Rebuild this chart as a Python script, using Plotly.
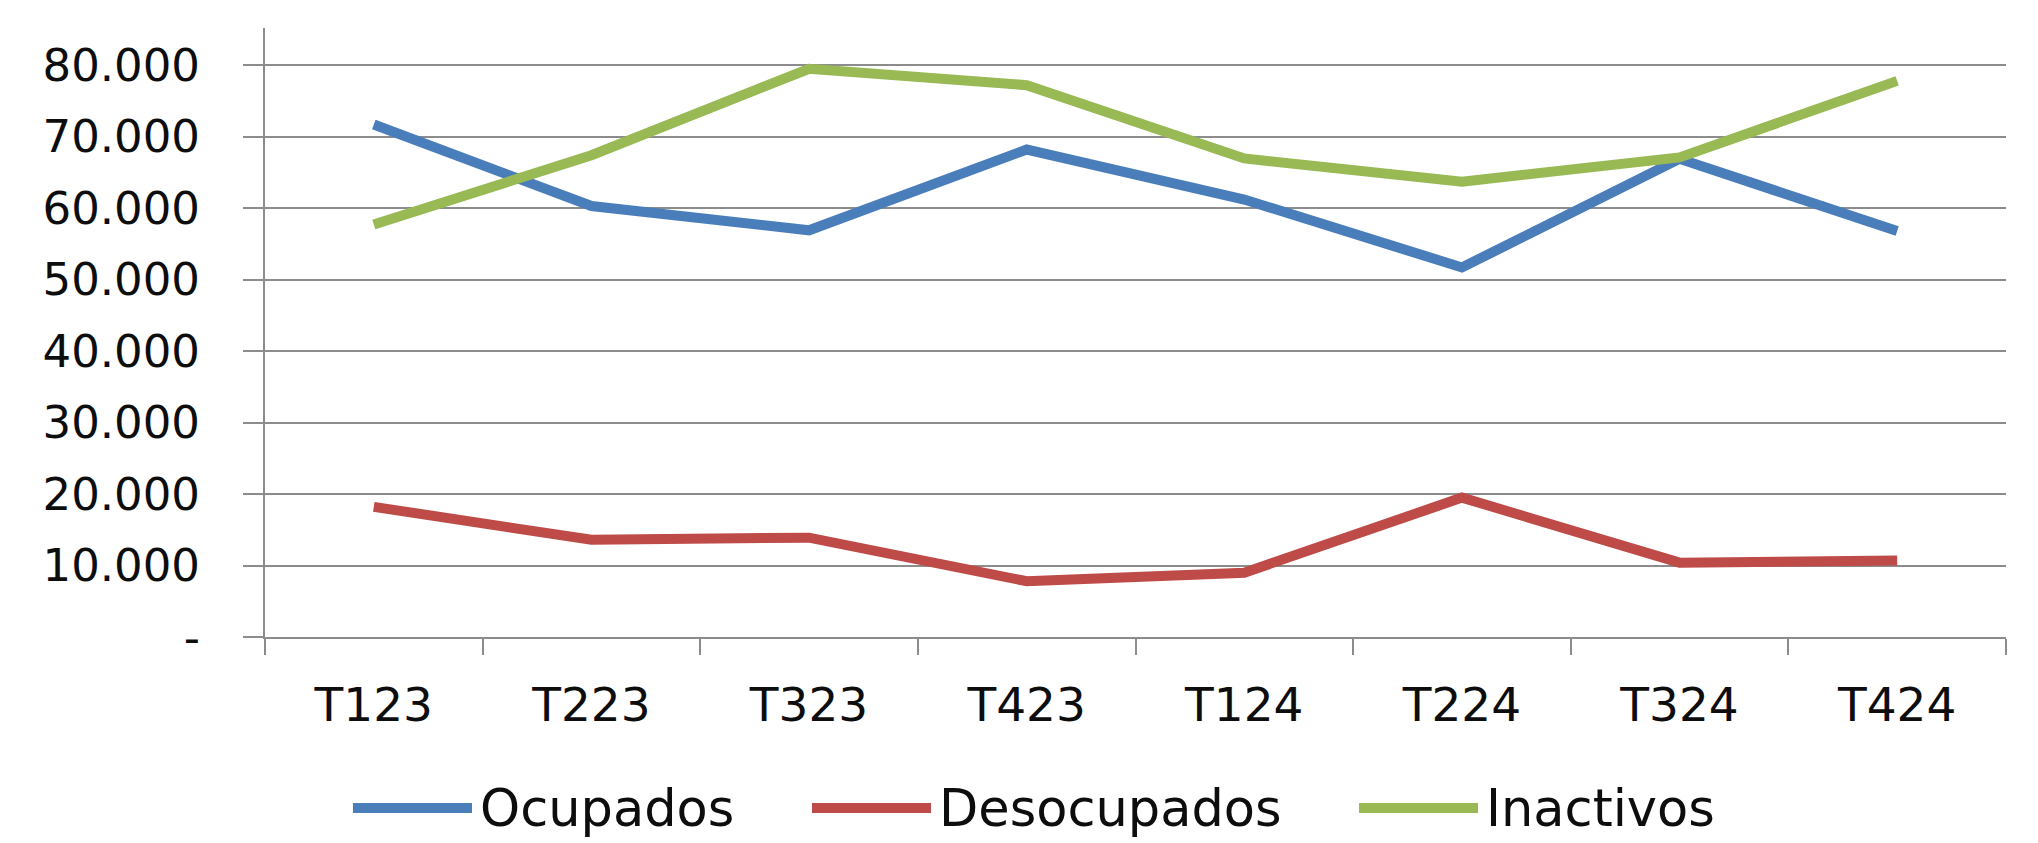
import plotly.graph_objects as go

# ---- data ----
categories = ["T123", "T223", "T323", "T423", "T124", "T224", "T324", "T424"]
ocupados = [71700, 60300, 56900, 68200, 61200, 51700, 66900, 56800]
desocupados = [18200, 13600, 13900, 7800, 9000, 19500, 10400, 10700]
inactivos = [57700, 67400, 79500, 77200, 66950, 63700, 67100, 77800]

series_names = ["Ocupados", "Desocupados", "Inactivos"]
series_values = [ocupados, desocupados, inactivos]
series_colors = ["#4A7EBB", "#BE4B48", "#98B954"]

y_tickvals = [0, 10000, 20000, 30000, 40000, 50000, 60000, 70000, 80000]
y_ticktext = ["-", "10.000", "20.000", "30.000", "40.000", "50.000", "60.000", "70.000", "80.000"]

# ---- layout constants (pixels) ----
OFF = 8                     # default page body margin
W, H = 2038 - OFF, 843 - OFF
L, R, T, B = 257, 32, 20, 206
PW = W - L - R
PH = H - T - B
FONT = "DejaVu Sans"
GRID = "#8C8C8C"
TXT = "#0d0d0d"

fig = go.Figure()
for name, vals, col in zip(series_names, series_values, series_colors):
    fig.add_trace(go.Scatter(
        x=categories, y=vals, name=name, mode="lines",
        line=dict(color=col, width=10), showlegend=False,
    ))

# custom legend (long line samples like the original)
legend_starts = [353, 812, 1359]   # page pixels
legend_line_len = 119
legend_y_px = 808
for name, col, x0 in zip(series_names, series_colors, legend_starts):
    yp = (T + PH - (legend_y_px - OFF)) / PH
    fig.add_shape(type="line", xref="paper", yref="paper",
                  x0=(x0 - OFF - L) / PW, x1=(x0 + legend_line_len - OFF - L) / PW,
                  y0=yp, y1=yp, line=dict(color=col, width=10))
    fig.add_annotation(xref="paper", yref="paper",
                       x=(x0 + legend_line_len + 6 - OFF - L) / PW, y=yp,
                       text=name, showarrow=False, xanchor="left", yanchor="middle",
                       font=dict(family=FONT, size=51, color=TXT))

fig.update_layout(
    width=W, height=H,
    margin=dict(l=L, r=R, t=T, b=B, pad=0),
    paper_bgcolor="white", plot_bgcolor="white",
    font=dict(family=FONT, color=TXT),
    showlegend=False,
)
fig.update_xaxes(
    type="category", range=[-0.5, len(categories) - 0.5],
    showgrid=False, showline=True, linecolor=GRID, linewidth=2,
    ticks="outside", tickson="boundaries", ticklen=16, tickwidth=2, tickcolor=GRID,
    tickfont=dict(family=FONT, size=47, color=TXT),
    ticklabelstandoff=26, zeroline=False,
)
fig.update_yaxes(
    range=[0, 85200], tickvals=y_tickvals, ticktext=y_ticktext,
    showgrid=True, gridcolor=GRID, gridwidth=2,
    showline=True, linecolor=GRID, linewidth=2,
    ticks="outside", ticklen=20, tickwidth=2, tickcolor=GRID,
    tickfont=dict(family=FONT, size=45, color=TXT),
    ticklabelstandoff=34, zeroline=False,
)

fig.write_html("out.html")
